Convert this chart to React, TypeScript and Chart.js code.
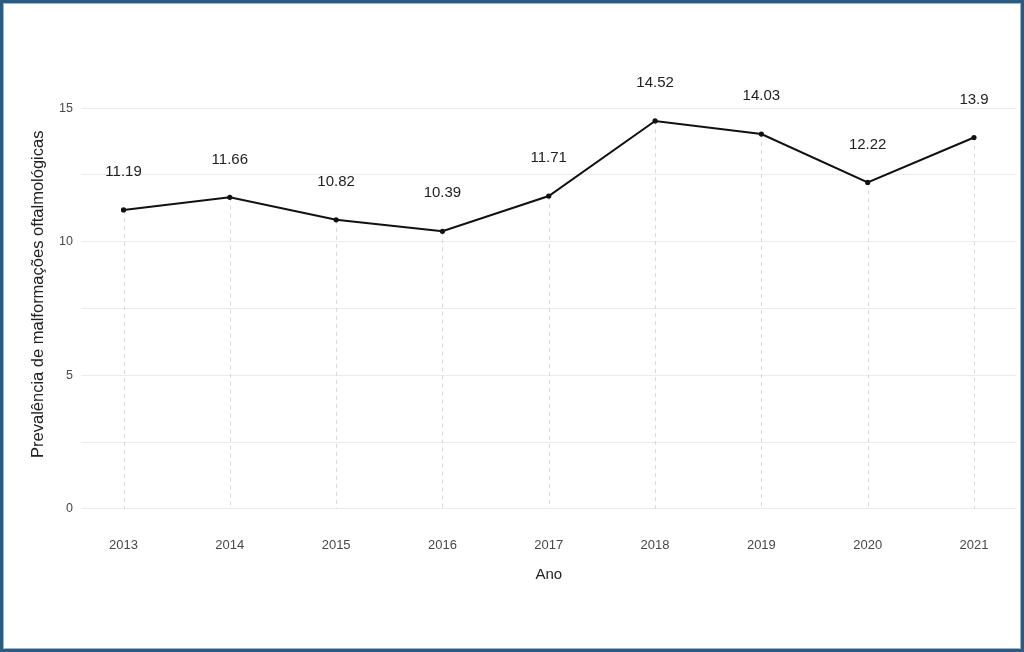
import React, { useEffect, useRef } from "react";
import { Chart, registerables } from "chart.js";

Chart.register(...registerables);

const years = [2013, 2014, 2015, 2016, 2017, 2018, 2019, 2020, 2021];
const prevalence = [11.19, 11.66, 10.82, 10.39, 11.71, 14.52, 14.03, 12.22, 13.9];
const yGridValues = [0, 2.5, 5, 7.5, 10, 12.5, 15];
const yLabeledTicks = [0, 5, 10, 15];
const xTitle = "Ano";
const yTitle = "Prevalência de malformações oftalmológicas";

const FONT = "'Liberation Sans', Arial, Helvetica, sans-serif";

const dropLines = {
  id: "dropLines",
  beforeDatasetsDraw(chart: any) {
    const meta = chart.getDatasetMeta(0);
    const yScale = chart.scales.y;
    const y0 = yScale.getPixelForValue(0);
    const ctx = chart.ctx;
    ctx.save();
    ctx.strokeStyle = "#d9d9d9";
    ctx.lineWidth = 1;
    ctx.setLineDash([4, 4]);
    meta.data.forEach((pt: any) => {
      ctx.beginPath();
      ctx.moveTo(Math.round(pt.x) + 0.5, pt.y);
      ctx.lineTo(Math.round(pt.x) + 0.5, y0);
      ctx.stroke();
    });
    ctx.restore();
  },
};

const valueLabels = {
  id: "valueLabels",
  afterDatasetsDraw(chart: any) {
    const meta = chart.getDatasetMeta(0);
    const ctx = chart.ctx;
    ctx.save();
    ctx.fillStyle = "#222222";
    ctx.font = `15px ${FONT}`;
    ctx.textAlign = "center";
    ctx.textBaseline = "middle";
    meta.data.forEach((pt: any, i: number) => {
      ctx.fillText(String(prevalence[i]), pt.x, pt.y - 38);
    });
    ctx.restore();
  },
};

export default function App() {
  const canvasRef = useRef<HTMLCanvasElement | null>(null);

  useEffect(() => {
    if (!canvasRef.current) return;
    const chart = new Chart(canvasRef.current, {
      type: "line",
      data: {
        datasets: [
          {
            data: years.map((yr, i) => ({ x: yr, y: prevalence[i] })),
            borderColor: "#111111",
            backgroundColor: "#111111",
            borderWidth: 2,
            pointRadius: 2.6,
            pointBackgroundColor: "#111111",
            pointBorderWidth: 0,
            tension: 0,
            clip: false as any,
          },
        ],
      },
      options: {
        animation: false,
        responsive: false,
        maintainAspectRatio: false,
        layout: { padding: { left: 0, right: 7.5, top: 60, bottom: 0 } },
        plugins: {
          legend: { display: false },
          tooltip: { enabled: false },
        },
        scales: {
          x: {
            type: "linear",
            min: 2012.6,
            max: 2021.4,
            grid: { display: false, drawTicks: false },
            border: { display: false },
            afterBuildTicks: (scale: any) => {
              scale.ticks = years.map((v) => ({ value: v }));
            },
            afterFit: (scale: any) => {
              scale.height = 123.5;
            },
            ticks: {
              color: "#484848",
              font: { family: FONT, size: 13 },
              padding: 9,
              maxRotation: 0,
              autoSkip: false,
              callback: (v: any) => String(v),
            },
            title: {
              display: true,
              text: xTitle,
              color: "#222222",
              font: { family: FONT, size: 15 },
              padding: { top: 0, bottom: 68 },
            },
          },
          y: {
            min: -0.73,
            max: 16.8,
            grid: { color: "#ebebeb", lineWidth: 1, drawTicks: false },
            border: { display: false },
            afterBuildTicks: (scale: any) => {
              scale.ticks = yGridValues.map((v) => ({ value: v }));
            },
            afterFit: (scale: any) => {
              scale.width = 81;
            },
            ticks: {
              color: "#484848",
              font: { family: FONT, size: 12.5 },
              padding: 8,
              autoSkip: false,
              callback: (v: any) => (yLabeledTicks.includes(v) ? String(v) : ""),
            },
            title: {
              display: true,
              text: yTitle,
              color: "#222222",
              font: { family: FONT, size: 16.5 },
              padding: { top: 29, bottom: 0 },
            },
          },
        },
      },
      plugins: [dropLines, valueLabels],
    });
    return () => chart.destroy();
  }, []);

  return (
    <div
      style={{
        position: "fixed",
        left: 0,
        top: 0,
        width: 1024,
        height: 652,
        background: "#ffffff",
      }}
    >
      <canvas
        ref={canvasRef}
        width={1024}
        height={652}
        style={{ position: "absolute", left: 0, top: 0, width: 1024, height: 652 }}
      />
      <div
        style={{
          position: "absolute",
          left: 0,
          top: 0,
          width: 1024,
          height: 652,
          boxSizing: "border-box",
          border: "3px solid #2c5a80",
          boxShadow: "inset 0 0 0 1px #9db8cc",
          pointerEvents: "none",
        }}
      />
    </div>
  );
}
